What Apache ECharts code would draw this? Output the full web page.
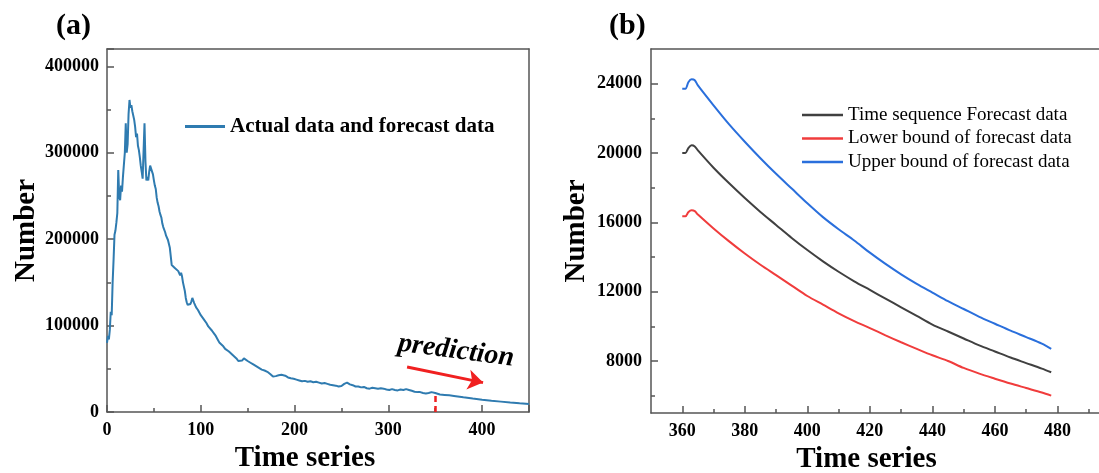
<!DOCTYPE html>
<html>
<head>
<meta charset="utf-8">
<script src="https://cdn.jsdelivr.net/npm/echarts@6/dist/echarts.min.js"></script>
<style>
  html, body { margin: 0; padding: 0; background: #fff; }
  #chart { width: 1099px; height: 473px; }
</style>
</head>
<body>
<div id="chart"></div>
<script>
// (a) actual data up to ~350, then forecast
var timeA = [0,1,2,3,4,5,6,7,8,9,10,11,12,13,14,15,16,17,18,19,20,21,22,23,24,25,26,27,28,29,30,
  31,32,33,34,35,36,37,38,39,40,41,42,43,44,45,46,47,48,49,50,51,52,53,54,55,56,57,58,59,60,
  61,62,63,64,65,66,67,68,69,70,72,74,76,78,79,80,81,82,83,84,85,86,87,88,89,90,91,92,93,94,
  95,96,97,98,99,100,102,104,106,108,110,112,114,116,118,120,122,124,126,128,130,132,134,136,
  138,140,142,144,146,148,150,153,156,159,162,165,168,171,174,177,180,183,186,188,190,193,196,
  199,202,205,208,211,214,217,220,223,226,229,232,235,238,241,244,247,250,253,256,259,262,265,
  268,271,274,277,280,283,286,289,292,295,298,301,304,307,310,313,316,319,322,325,328,331,334,
  337,340,343,346,348,350,352,355,360,365,370,380,390,400,410,420,430,440,450];
var countA = [80000,88000,84000,95000,116000,112000,150000,176000,205000,210000,219000,230000,
  280000,250000,245000,262000,255000,272000,270000,300000,334000,300000,310000,345000,361000,
  352000,355000,348000,346000,338000,330000,318000,322000,308000,303000,295000,285000,278000,
  270000,268000,334000,290000,268000,272000,268000,278000,285000,283000,287000,275000,268000,
  262000,258000,248000,242000,238000,232000,228000,225000,218000,214000,215000,208000,204000,
  206000,199000,200000,190000,180000,170000,168000,167000,165000,163000,158000,161000,157000,
  150000,152000,140000,132000,127000,124000,125000,122000,125000,128000,132000,129000,126000,
  124000,121000,123000,118000,117000,116000,112000,110000,106000,103000,99000,97000,94000,
  91000,88000,84000,80000,78000,76000,73000,71000,70000,68000,66000,64000,62000,59000,58000,
  59500,62000,61000,59000,57000,55000,53000,51000,49000,48000,46500,44000,41000,41500,42500,
  43000,44500,42000,40000,39000,38500,37500,36500,35500,36000,35000,35500,34500,35000,34000,
  33000,33500,32500,31500,31000,30500,29500,30000,32500,34000,32000,31000,29500,29500,28500,
  29000,27500,27000,28000,27500,27000,27500,27000,26000,25500,26500,25500,25000,26000,25500,
  26500,25500,24500,23500,23000,23000,22000,21500,22000,23000,23500,22000,21000,20300,19800,
  19300,18600,17000,15500,14200,13000,12000,11000,10100,9300];

// (b) forecast with bounds
var timeB = [360,361,362,363,364,365,370,375,380,385,390,395,400,405,410,415,420,425,430,435,
  440,445,450,455,460,465,470,475,478];
var forecastMid = [20000,20000,20300,20450,20380,20150,19150,18250,17400,16600,15850,15100,
  14400,13750,13150,12600,12100,11600,11100,10600,10100,9700,9300,8900,8550,8200,7880,7560,7350];
var forecastLow = [16350,16350,16600,16700,16650,16450,15650,14900,14200,13550,12950,12350,
  11750,11250,10750,10300,9900,9480,9080,8700,8330,8000,7600,7270,6980,6700,6440,6180,6000];
var forecastHigh = [23700,23700,24100,24250,24200,23900,22750,21650,20650,19700,18800,17950,
  17100,16300,15600,14950,14250,13600,13000,12450,11950,11450,11000,10550,10150,9750,9380,9000,8700];

var ticksBx = [360,380,400,420,440,460,480];
var minorBx = [370,390,410,430,450,470,490];
var ticksBy = [8000,12000,16000,20000,24000];
var minorBy = [6000,10000,14000,18000,22000];

function pairs(xs, ys) {
  return xs.map(function (x, i) { return [x, ys[i]]; });
}

var serif = '"Liberation Serif", "Times New Roman", serif';
var axisColor = '#555';
var labelStyle = { color: '#000', fontFamily: serif, fontWeight: 'bold', fontSize: 18 };
var nameStyle = { color: '#000', fontFamily: serif, fontWeight: 'bold', fontSize: 29 };

// plain frame line (top / right sides of each panel)
function frameAxis(grid, pos, min, max) {
  return {
    gridIndex: grid, type: 'value', position: pos, min: min, max: max,
    axisLine: { show: true, onZero: false, lineStyle: { color: axisColor, width: 1.5 } },
    axisTick: { show: false }, axisLabel: { show: false }, splitLine: { show: false }
  };
}

var chart = echarts.init(document.getElementById('chart'));
var option = {
  animation: false,
  title: [
    { text: '(a)', left: 51, top: 6, textStyle: { fontFamily: serif, fontWeight: 'bold', fontSize: 30, color: '#000' } },
    { text: '(b)', left: 604, top: 6, textStyle: { fontFamily: serif, fontWeight: 'bold', fontSize: 30, color: '#000' } }
  ],
  legend: [
    {
      data: ['Actual data and forecast data'],
      left: 185, top: 116, padding: 0,
      icon: 'rect', itemWidth: 40, itemHeight: 3,
      textStyle: { fontFamily: serif, fontWeight: 'bold', fontSize: 21, color: '#000' }
    },
    {
      data: ['Time sequence Forecast data', 'Lower bound of forecast data', 'Upper bound of forecast data'],
      orient: 'vertical',
      left: 802, top: 105, padding: 0,
      icon: 'rect', itemWidth: 41, itemHeight: 2.5, itemGap: 3.5,
      textStyle: { fontFamily: serif, fontSize: 19, color: '#000', lineHeight: 20 }
    }
  ],
  grid: [
    { left: 107, top: 49, width: 422, height: 363, outerBoundsMode: 'none' },
    { left: 651, top: 49, width: 469, height: 364, outerBoundsMode: 'none' }
  ],
  xAxis: [
    {
      gridIndex: 0, type: 'value', position: 'bottom', min: 0, max: 450, interval: 100,
      name: 'Time series', nameLocation: 'middle', nameGap: 28,
      nameTextStyle: Object.assign({ padding: [0, 26, 0, 0] }, nameStyle),
      axisLine: { onZero: false, lineStyle: { color: axisColor, width: 1.5 } },
      axisTick: { inside: true, length: 7, lineStyle: { color: axisColor, width: 1.5 } },
      minorTick: { show: true, splitNumber: 2, length: 4, lineStyle: { color: axisColor, width: 1.5 } },
      axisLabel: Object.assign({ margin: 9, showMaxLabel: false }, labelStyle),
      splitLine: { show: false }
    },
    {
      gridIndex: 1, type: 'value', position: 'bottom', min: 350, max: 500,
      name: 'Time series', nameLocation: 'middle', nameGap: 28,
      nameTextStyle: Object.assign({ padding: [0, 38, 0, 0] }, nameStyle),
      axisLine: { onZero: false, lineStyle: { color: axisColor, width: 1.5 } },
      axisTick: { inside: true, length: 7, customValues: ticksBx, lineStyle: { color: axisColor, width: 1.5 } },
      axisLabel: Object.assign({ margin: 9, customValues: ticksBx }, labelStyle),
      splitLine: { show: false }
    },
    {
      gridIndex: 1, type: 'value', position: 'bottom', min: 350, max: 500,
      axisLine: { show: false, onZero: false },
      axisTick: { inside: true, length: 4, customValues: minorBx, lineStyle: { color: axisColor, width: 1.5 } },
      axisLabel: { show: false },
      splitLine: { show: false }
    },
    frameAxis(0, 'top', 0, 450),
    frameAxis(1, 'top', 350, 500)
  ],
  yAxis: [
    {
      gridIndex: 0, type: 'value', position: 'left', min: 0, max: 420000, interval: 100000,
      name: 'Number', nameLocation: 'middle', nameGap: 64, nameTextStyle: nameStyle,
      axisLine: { onZero: false, lineStyle: { color: axisColor, width: 1.5 } },
      axisTick: { inside: true, length: 7, lineStyle: { color: axisColor, width: 1.5 } },
      minorTick: { show: true, splitNumber: 2, length: 4, lineStyle: { color: axisColor, width: 1.5 } },
      axisLabel: Object.assign({ margin: 8, showMaxLabel: false, formatter: function (v) { return String(v); } }, labelStyle),
      splitLine: { show: false }
    },
    {
      gridIndex: 1, type: 'value', position: 'left', min: 5000, max: 26000,
      name: 'Number', nameLocation: 'middle', nameGap: 60, nameTextStyle: nameStyle,
      axisLine: { onZero: false, lineStyle: { color: axisColor, width: 1.5 } },
      axisTick: { inside: true, length: 7, customValues: ticksBy, lineStyle: { color: axisColor, width: 1.5 } },
      axisLabel: Object.assign({ margin: 9, customValues: ticksBy, formatter: function (v) { return String(v); } }, labelStyle),
      splitLine: { show: false }
    },
    {
      gridIndex: 1, type: 'value', position: 'left', min: 5000, max: 26000,
      axisLine: { show: false, onZero: false },
      axisTick: { inside: true, length: 4, customValues: minorBy, lineStyle: { color: axisColor, width: 1.5 } },
      axisLabel: { show: false },
      splitLine: { show: false }
    },
    frameAxis(0, 'right', 0, 420000),
    frameAxis(1, 'right', 5000, 26000)
  ],
  graphic: [
    {
      type: 'text', x: 456, y: 351, rotation: -0.13,
      style: {
        text: 'prediction', fill: '#000', align: 'center', verticalAlign: 'middle',
        font: 'italic bold 28px ' + serif
      }
    }
  ],
  series: [
    {
      name: 'Actual data and forecast data', type: 'line',
      xAxisIndex: 0, yAxisIndex: 0,
      data: pairs(timeA, countA),
      symbol: 'none', color: '#2f7bb0',
      lineStyle: { color: '#2f7bb0', width: 2 },
      markLine: {
        silent: true, animation: false,
        label: { show: false },
        data: [
          [
            { coord: [350, 0], symbol: 'none', lineStyle: { color: '#f02020', width: 2.5, type: [6, 4] } },
            { coord: [350, 22500], symbol: 'none' }
          ],
          [
            { coord: [320, 52000], symbol: 'none', lineStyle: { color: '#f02020', width: 3, type: 'solid' } },
            { coord: [401, 34000], symbol: 'arrow', symbolSize: 15 }
          ]
        ]
      }
    },
    {
      name: 'Time sequence Forecast data', type: 'line',
      xAxisIndex: 1, yAxisIndex: 1,
      data: pairs(timeB, forecastMid), smooth: 0.3,
      symbol: 'none', color: '#404040',
      lineStyle: { color: '#404040', width: 2 }
    },
    {
      name: 'Lower bound of forecast data', type: 'line',
      xAxisIndex: 1, yAxisIndex: 1,
      data: pairs(timeB, forecastLow), smooth: 0.3,
      symbol: 'none', color: '#f03c3c',
      lineStyle: { color: '#f03c3c', width: 2 }
    },
    {
      name: 'Upper bound of forecast data', type: 'line',
      xAxisIndex: 1, yAxisIndex: 1,
      data: pairs(timeB, forecastHigh), smooth: 0.3,
      symbol: 'none', color: '#2a6fdc',
      lineStyle: { color: '#2a6fdc', width: 2 }
    }
  ]
};
option && chart.setOption(option);
</script>
</body>
</html>
